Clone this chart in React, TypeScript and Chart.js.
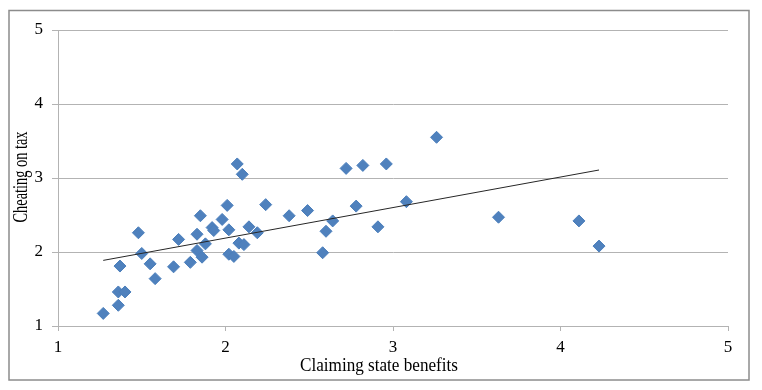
import React, { useEffect, useRef } from 'react';
import { Chart, registerables } from 'chart.js';

Chart.register(...registerables);

const xAxisTitle = 'Claiming state benefits';
const yAxisTitle = 'Cheating on tax';

const benefits = [
  1.27, 1.36, 1.36, 1.40, 1.37, 1.48, 1.50, 1.55, 1.58, 1.69,
  1.72, 1.79, 1.83, 1.85, 1.83, 1.86, 1.88, 1.92, 1.93, 1.98,
  2.01, 2.02, 2.02, 2.05, 2.08, 2.11, 2.07, 2.10, 2.24, 2.14,
  2.19, 2.38, 2.49, 2.64, 2.60, 2.58, 2.72, 2.82, 2.78, 2.91,
  2.96, 3.26, 3.08, 3.63, 4.11, 4.23,
];
const cheating = [
  1.17, 1.28, 1.46, 1.46, 1.81, 2.26, 1.98, 1.84, 1.64, 1.80,
  2.17, 1.86, 2.24, 2.49, 2.02, 1.93, 2.11, 2.33, 2.29, 2.44,
  2.63, 2.30, 1.97, 1.94, 2.12, 2.10, 3.19, 3.05, 2.64, 2.34,
  2.26, 2.49, 2.56, 2.42, 2.28, 1.99, 3.13, 3.17, 2.62, 2.34,
  3.19, 3.55, 2.68, 2.47, 2.42, 2.08,
];
const xTickValues = [1, 2, 3, 4, 5];
const yTickValues = [1, 2, 3, 4, 5];

function linearFit(xs: number[], ys: number[]) {
  const n = xs.length;
  const mx = xs.reduce((a, b) => a + b, 0) / n;
  const my = ys.reduce((a, b) => a + b, 0) / n;
  let sxy = 0;
  let sxx = 0;
  for (let i = 0; i < n; i++) {
    sxy += (xs[i] - mx) * (ys[i] - my);
    sxx += (xs[i] - mx) * (xs[i] - mx);
  }
  const slope = sxy / sxx;
  return { slope, intercept: my - slope * mx };
}

const FONT = "'Liberation Serif', 'Times New Roman', serif";

export default function App() {
  const ref = useRef<HTMLCanvasElement>(null);

  useEffect(() => {
    const canvas = ref.current;
    if (!canvas) return;
    const points = benefits.map((x, i) => ({ x, y: cheating[i] }));
    const { slope, intercept } = linearFit(benefits, cheating);
    const minX = Math.min(...benefits);
    const maxX = Math.max(...benefits);
    const trend = [
      { x: minX, y: intercept + slope * minX },
      { x: maxX, y: intercept + slope * maxX },
    ];

    const framePlugin = {
      id: 'frameAndTitles',
      afterDraw(chart: any) {
        const c = chart.ctx as CanvasRenderingContext2D;
        c.save();
        c.strokeStyle = '#8c8c8c';
        c.lineWidth = 1.5;
        c.strokeRect(9, 10.5, 740, 369.5);
        c.fillStyle = '#000';
        c.textAlign = 'center';
        c.textBaseline = 'middle';
        c.font = `18px ${FONT}`;
        let w = c.measureText(xAxisTitle).width;
        c.translate(379, 366);
        c.scale(158 / w, 1);
        c.fillText(xAxisTitle, 0, 0);
        c.restore();
        c.save();
        c.fillStyle = '#000';
        c.textAlign = 'center';
        c.textBaseline = 'middle';
        c.font = `20px ${FONT}`;
        w = c.measureText(yAxisTitle).width;
        c.translate(22, 177);
        c.rotate(-Math.PI / 2);
        c.scale(91 / w, 1);
        c.fillText(yAxisTitle, 0, 0);
        c.restore();
      },
    };

    const chart = new Chart(canvas, {
      type: 'scatter',
      data: {
        datasets: [
          {
            type: 'line',
            data: trend,
            borderColor: '#262626',
            borderWidth: 1,
            pointRadius: 0,
            fill: false,
          } as any,
          {
            data: points,
            pointStyle: 'rectRot',
            pointRadius: 6,
            pointHoverRadius: 6,
            backgroundColor: '#4f81bd',
            borderColor: '#4a7ebb',
            borderWidth: 1,
          },
        ],
      },
      options: {
        animation: false,
        responsive: false,
        devicePixelRatio: 1,
        layout: { padding: { left: 0, top: 30, right: 34, bottom: 0 } },
        plugins: {
          legend: { display: false },
          tooltip: { enabled: false },
        },
        scales: {
          x: {
            type: 'linear',
            min: 1,
            max: 5,
            afterBuildTicks: (s: any) => {
              s.ticks = xTickValues.map((v) => ({ value: v }));
            },
            afterFit: (s: any) => {
              s.height = 64;
            },
            grid: {
              drawOnChartArea: false,
              drawTicks: true,
              tickLength: 5,
              color: '#b3b3b3',
            },
            border: { color: '#b3b3b3', width: 1 },
            ticks: {
              font: { family: FONT, size: 17 },
              color: '#000',
              padding: 6,
              maxRotation: 0,
              autoSkip: false,
            },
          },
          y: {
            type: 'linear',
            min: 1,
            max: 5,
            afterBuildTicks: (s: any) => {
              s.ticks = yTickValues.map((v) => ({ value: v }));
            },
            afterFit: (s: any) => {
              s.width = 58;
            },
            grid: {
              drawOnChartArea: true,
              drawTicks: true,
              tickLength: 6,
              color: '#b3b3b3',
            },
            border: { color: '#b3b3b3', width: 1 },
            ticks: {
              font: { family: FONT, size: 17 },
              color: '#000',
              padding: 9,
              autoSkip: false,
            },
          },
        },
      },
      plugins: [framePlugin],
    });

    return () => chart.destroy();
  }, []);

  return (
    <div style={{ position: 'absolute', left: 0, top: 0, width: 762, height: 390, background: '#fff' }}>
      <canvas ref={ref} width={762} height={390} style={{ display: 'block' }} />
    </div>
  );
}
